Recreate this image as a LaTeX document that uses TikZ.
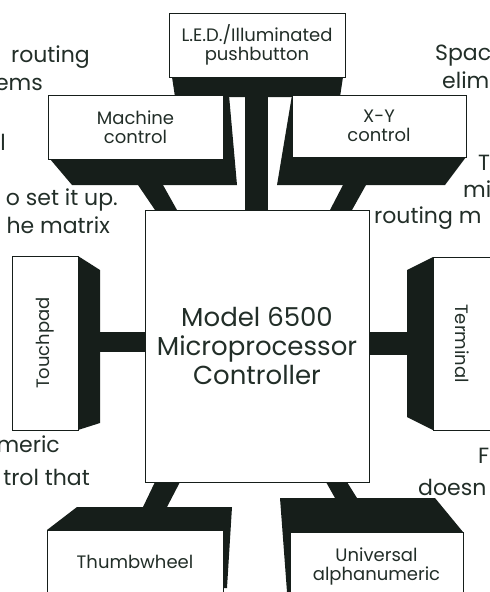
\documentclass[tikz,border=0pt]{standalone}
\usepackage{fontspec}
\setmainfont{Poppins}
\usetikzlibrary{positioning,calc}
\definecolor{ink}{RGB}{22,30,26}
\definecolor{txt}{RGB}{34,46,40}

\begin{document}
\begin{tikzpicture}[x=1pt, y=-1pt,
  blk/.style={draw=ink, line width=0.7pt, fill=white, align=center, inner sep=0pt, text=txt, font=\fontsize{18}{19}\selectfont},
  shd/.style={fill=ink},
  bar/.style={fill=ink},
  bgtxt/.style={text=txt, font=\fontsize{22}{26}\selectfont, inner sep=0pt},
]
\clip (0,0) rectangle (490,592);

% ---- text of the page behind the figure ----
\node[bgtxt, anchor=base east] (l1) at (90,62) {routing};
\node[bgtxt, anchor=base east] (l2) at (43,90) {ems};
\node[bgtxt, anchor=base east] (l3) at (6,150) {l};
\node[bgtxt, anchor=base east] (l4) at (118,205) {o set it up.};
\node[bgtxt, anchor=base east] (l5) at (110,233) {he matrix};
\node[bgtxt, anchor=base east] (l6) at (60,452) {meric};
\node[bgtxt, anchor=base east] (l7) at (90,485) {trol that};
\node[bgtxt, anchor=base west] (r1) at (435,60) {Spac};
\node[bgtxt, anchor=base west] (r2) at (442,88) {elim};
\node[bgtxt, anchor=base west] (r3) at (478,170) {T};
\node[bgtxt, anchor=base west] (r4) at (463,197) {mi};
\node[bgtxt, anchor=base west] (r5) at (374,223) {routing m};
\node[bgtxt, anchor=base west] (r6) at (478,463) {F};
\node[bgtxt, anchor=base west] (r7) at (418,495) {doesn};

% ---- shadows and bars ----
\fill[shd] (172,77) -- (343,77) -- (340,97) -- (175,97) -- cycle;
\fill[bar] (245,77) rectangle (268,210);
\fill[shd] (223,95) -- (229,95) -- (237,185) -- (72,185) -- (50,159) -- (223,159) -- cycle;
\fill[bar] (138,185) -- (163,185) -- (177,210) -- (155,210) -- cycle;
\fill[shd] (292,95) -- (292,157) -- (466,157) -- (445,185) -- (277,185) -- cycle;
\fill[bar] (343,185) -- (366,185) -- (352,210) -- (330,210) -- cycle;
\fill[shd] (78,256) -- (100,270) -- (100,423) -- (78,430) -- cycle;
\fill[bar] (100,332) rectangle (145,352);
\fill[shd] (433,257) -- (407,270) -- (407,417) -- (433,430) -- cycle;
\fill[bar] (369,332) rectangle (407,355);
\fill[bar] (155,482) -- (180,482) -- (167,507) -- (143,507) -- cycle;
\fill[shd] (47,530) -- (77,507) -- (232,507) -- (227,588) -- (223,588) -- (223,530) -- cycle;
\fill[bar] (326,482) -- (347,482) -- (357,498) -- (335,498) -- cycle;
\fill[shd] (280,498) -- (435,498) -- (463,532) -- (290,532) -- (290,592) -- (287,592) -- cycle;

% ---- boxes ----
\node[blk, minimum width=176, minimum height=64] (led) at (257,45) {L.E.D./Illuminated\\pushbutton};
\node[blk, minimum width=175, minimum height=64] (mach) at (135.5,127) {Machine\\control};
\node[blk, minimum width=174, minimum height=62] (xy) at (379,126) {X-Y\\control};
\node[blk, minimum width=224, minimum height=272, font=\fontsize{26}{29}\selectfont] (ctrl) at (257,346) {Model 6500\\Microprocessor\\Controller};
\node[blk, minimum width=66, minimum height=174] (touch) at (45,343) {};
\node[rotate=90, text=txt, font=\fontsize{18}{19}\selectfont] (touchlbl) at (touch.center) {Touchpad};
\node[blk, minimum width=58, minimum height=173] (term) at (462,343.5) {};
\node[rotate=-90, text=txt, font=\fontsize{18}{19}\selectfont] (termlbl) at (term.center) {Terminal};
\node[blk, minimum width=176, minimum height=64] (thumb) at (135,562) {Thumbwheel};
\node[blk, minimum width=173, minimum height=68] (univ) at (376.5,566) {Universal\\alphanumeric};

\end{tikzpicture}
\end{document}
